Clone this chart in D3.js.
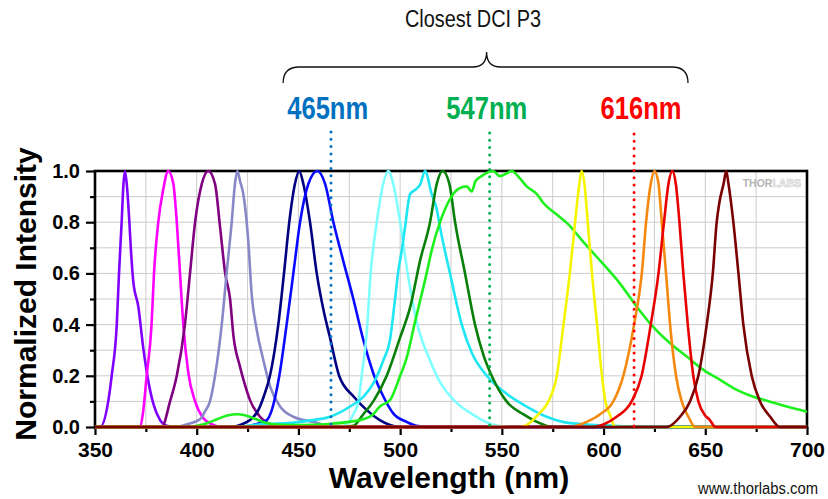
<!DOCTYPE html>
<html>
<head>
<meta charset="utf-8">
<script src="https://cdn.jsdelivr.net/npm/d3@7"></script>
<style>
  body { margin: 0; background: #fff; }
  svg { display: block; }
  .tick text { font-family: "Liberation Sans", Arial, sans-serif; font-weight: bold; fill: #000; }
  .narrow { font-family: "Liberation Sans Narrow", "Arial Narrow", "Liberation Sans", sans-serif; }
</style>
</head>
<body>
<div id="plot"></div>
<script>
var width = 828;
var height = 499;
var margin = { left: 95, top: 171, right: 21, bottom: 72 };
var plotW = width - margin.left - margin.right;
var plotH = height - margin.top - margin.bottom;

// LED spectra, [wavelength nm, normalized intensity]
var violet = [[350,0],[352.5,0],[356.5,0.1],[358.2,0.2],[360.7,0.4],[361.8,0.6],[363.1,0.8],[364,0.95],[364.7,1],[365.6,0.95],[366.9,0.8],[367.6,0.7],[368.8,0.57],[371.3,0.47],[373.7,0.31],[376.2,0.18],[378.7,0.09],[382,0.027],[385.2,0.005],[390,0],[700,0]];
var magenta = [[350,0],[372,0],[373.5,0.05],[375.4,0.2],[377.8,0.4],[379,0.6],[381.1,0.8],[383.6,0.93],[386,1],[388.5,0.95],[390.2,0.8],[391.8,0.6],[393.4,0.4],[395.9,0.21],[399.2,0.1],[403.2,0.035],[408.2,0.008],[412,0],[700,0]];
var purple = [[350,0],[382.8,0],[386.9,0.1],[390.2,0.2],[394.2,0.4],[396.7,0.6],[399.2,0.8],[402.5,0.95],[405.7,1],[409,0.95],[411.5,0.78],[414,0.6],[416.4,0.5],[418,0.36],[421.3,0.235],[423.5,0.17],[426.2,0.105],[431.1,0.04],[436,0.01],[441,0],[700,0]];
var lavender = [[350,0],[390,0],[395,0.01],[401.6,0.03],[404,0.06],[406.5,0.1],[409,0.2],[412.3,0.4],[414.7,0.6],[417.2,0.8],[418.8,0.95],[420,1],[421.3,0.96],[422.9,0.91],[425.4,0.72],[427,0.52],[429.5,0.38],[432.8,0.26],[436,0.16],[441,0.08],[447.5,0.04],[457.3,0.02],[465,0.005],[475,0],[700,0]];
var navy = [[350,0],[418,0],[421.3,0.008],[426.2,0.027],[430.3,0.066],[433,0.12],[436,0.2],[440.1,0.4],[442.9,0.6],[445.5,0.8],[448.3,0.95],[450.4,1],[452.4,0.95],[455.7,0.8],[459,0.6],[462.5,0.45],[465.5,0.35],[470,0.2],[477,0.12],[483.6,0.066],[490,0.027],[495,0.008],[500,0],[700,0]];
var blue = [[350,0],[425,0],[427.8,0.008],[434.4,0.027],[436.9,0.066],[440.6,0.2],[444.2,0.4],[447.5,0.6],[450.8,0.8],[454.9,0.95],[459.3,1],[463.1,0.95],[467.2,0.8],[472,0.65],[477,0.5],[481.9,0.34],[486.8,0.21],[491.7,0.12],[496.6,0.053],[503.2,0.02],[508,0.005],[515,0],[700,0]];
var lightCyan = [[350,0],[470,0],[473.7,0.01],[477,0.05],[479.5,0.1],[481.1,0.2],[483.6,0.37],[485.5,0.6],[488.5,0.8],[491.7,0.95],[494.2,1],[496.6,0.95],[500,0.8],[503.5,0.61],[508.5,0.4],[514.7,0.26],[520,0.17],[527,0.1],[535.4,0.05],[545.3,0.01],[555,0],[700,0]];
var cyan = [[350,0],[420,0],[430,0.01],[445,0.015],[455,0.025],[465.5,0.04],[475.4,0.08],[481.9,0.118],[486.8,0.17],[491.7,0.26],[495,0.34],[497.5,0.5],[499.1,0.61],[500.8,0.69],[502.4,0.78],[504.9,0.91],[508,0.93],[510,0.95],[512.2,1],[515.5,0.91],[518,0.85],[519.6,0.78],[524.5,0.6],[530.3,0.4],[535.2,0.29],[542.6,0.2],[552.3,0.13],[562.2,0.08],[572,0.04],[580,0.02],[592,0.01],[605,0.005],[620,0],[700,0]];
var darkGreen = [[350,0],[470,0],[477,0.005],[481.9,0.05],[486.8,0.1],[493.4,0.2],[500,0.35],[505,0.47],[509.8,0.65],[514.7,0.8],[518,0.95],[520.9,1],[524.2,0.95],[527,0.8],[531.9,0.6],[536.8,0.4],[541,0.28],[545,0.2],[552.3,0.1],[560.5,0.05],[567.2,0.02],[575,0],[700,0]];
var green = [[350,0],[395,0],[400,0.005],[405,0.015],[410,0.03],[415,0.045],[420.5,0.05],[426,0.04],[432.6,0.02],[439,0.01],[450,0.008],[465,0.012],[475,0.02],[481.8,0.03],[486.8,0.05],[490,0.08],[495,0.105],[500,0.2],[503.2,0.27],[507,0.4],[513,0.6],[515.5,0.69],[519.6,0.8],[524.5,0.89],[528.6,0.93],[532.7,0.94],[535.2,0.92],[537,0.96],[540,0.98],[545.7,1],[549,0.98],[552.3,0.99],[554.8,1],[559,0.97],[562.2,0.94],[567.2,0.91],[570.4,0.875],[577,0.83],[583.5,0.785],[589.3,0.73],[596.6,0.665],[608.1,0.56],[616.3,0.47],[624.5,0.39],[632.7,0.327],[640.9,0.275],[649.1,0.223],[657.3,0.184],[665.5,0.145],[673.6,0.118],[681.9,0.099],[690,0.08],[700,0.06]];
var yellow = [[350,0],[558,0],[561.5,0.005],[568,0.05],[572.9,0.1],[577,0.2],[580.3,0.4],[583.4,0.6],[586,0.8],[588.1,0.95],[589.2,1],[590.6,0.95],[592.2,0.8],[594.3,0.6],[596.8,0.4],[599.2,0.2],[600.9,0.1],[603,0.05],[605.8,0],[700,0]];
var orange = [[350,0],[585,0],[586.8,0.005],[591.7,0.02],[598.3,0.05],[604.8,0.1],[609.7,0.2],[615,0.4],[618.8,0.6],[620.9,0.8],[623.2,0.95],[625,1],[627,0.95],[628.6,0.8],[630.7,0.6],[632.7,0.4],[635.6,0.2],[638.4,0.1],[641.7,0.04],[645,0],[700,0]];
var red = [[350,0],[595,0],[599.9,0.01],[606.4,0.04],[613.8,0.1],[618.7,0.2],[623.2,0.4],[627,0.6],[629.7,0.8],[631.9,0.95],[633.8,1],[635.5,0.95],[637.3,0.8],[639.2,0.6],[641.4,0.4],[644.1,0.2],[646.6,0.1],[649.9,0.045],[652,0.03],[655,0],[700,0]];
var darkRed = [[350,0],[631,0],[637.6,0.04],[642.5,0.1],[646.6,0.2],[650.7,0.4],[653.7,0.6],[655.6,0.8],[657,0.88],[659,0.95],[660.3,1],[661.4,0.95],[663.8,0.8],[666.3,0.6],[668.7,0.4],[672.8,0.2],[676.9,0.1],[681.9,0.04],[686.8,0],[700,0]];

var spectra = [violet, magenta, purple, lavender, navy, blue, lightCyan, cyan, darkGreen, green, yellow, orange, red, darkRed];
var colors = ["#7f00ff", "#ff00ff", "#800080", "#8888c8", "#000080", "#0a0aff", "#80ffff", "#1ee6f2", "#087f08", "#1ef01e", "#f5f500", "#f5890f", "#e80000", "#7b0000"];

// DCI P3 markers
var markerNm = [466, 544, 615];
var markerLabelNm = [464.4, 542.6, 618.4];
var markerLabels = ["465nm", "547nm", "616nm"];
var markerColors = ["#0070c0", "#00b050", "#ff0000"];
var braceNm = [442.5, 542.5, 641.5];

var xTicks = [350, 400, 450, 500, 550, 600, 650, 700];
var xMinor = [375, 425, 475, 525, 575, 625, 675];
var yTicks = [0, 0.2, 0.4, 0.6, 0.8, 1.0];
var yMinor = [0.1, 0.3, 0.5, 0.7, 0.9];
var xGrid = [375, 400, 425, 450, 475, 500, 525, 550, 575, 600, 625, 650, 675];
var yGrid = [0.1, 0.2, 0.3, 0.4, 0.5, 0.6, 0.7, 0.8, 0.9];

var svg = d3.select("#plot").append("svg")
    .attr("width", width)
    .attr("height", height);

var scaleX = d3.scaleLinear().domain([350, 700]).range([0, plotW]);
var scaleY = d3.scaleLinear().domain([0, 1]).range([plotH, 0]);

var plot = svg.append("g").attr("transform", translate(margin.left, margin.top));

// grid
plot.selectAll("line.vgrid").data(xGrid).enter().append("line")
    .attr("x1", scaleX).attr("x2", scaleX)
    .attr("y1", 0).attr("y2", plotH)
    .style("stroke", "#cccccc").style("stroke-width", 1);
plot.selectAll("line.hgrid").data(yGrid).enter().append("line")
    .attr("y1", scaleY).attr("y2", scaleY)
    .attr("x1", 0).attr("x2", plotW)
    .style("stroke", "#cccccc").style("stroke-width", 1);

// watermark logo
var logo = plot.append("text")
    .attr("x", plotW - 6).attr("y", 16)
    .attr("text-anchor", "end")
    .style("font-family", "Liberation Sans, Arial, sans-serif")
    .style("font-weight", "bold")
    .style("font-size", "10.5px");
logo.append("tspan").text("THOR").style("fill", "#b4b4b4");
logo.append("tspan").text("LABS").style("fill", "#fff").style("stroke", "#c4c4c4").style("stroke-width", 0.6);

// axes
var xAxis = plot.append("g").attr("transform", translate(0, plotH))
    .call(d3.axisBottom(scaleX).tickValues(xTicks).tickSize(8).tickPadding(7));
plot.append("g").attr("transform", translate(0, plotH))
    .call(d3.axisBottom(scaleX).tickValues(xMinor).tickSize(5).tickFormat(""));
var yAxis = plot.append("g")
    .call(d3.axisLeft(scaleY).tickValues(yTicks).tickSize(9).tickPadding(6).tickFormat(d3.format(".1f")));
plot.append("g")
    .call(d3.axisLeft(scaleY).tickValues(yMinor).tickSize(5).tickFormat(""));

xAxis.selectAll("text").style("font-size", "21px");
yAxis.selectAll("text").style("font-size", "20px");
plot.selectAll(".domain").remove();
plot.selectAll(".tick line").style("stroke", "#000").style("stroke-width", 2.2);

// frame
plot.append("rect")
    .attr("width", plotW).attr("height", plotH)
    .style("fill", "none").style("stroke", "#000").style("stroke-width", 2.6);

// spectra
var line = d3.line()
    .x(function (d) { return scaleX(d[0]); })
    .y(function (d) { return scaleY(d[1]); })
    .curve(d3.curveMonotoneX);

plot.selectAll("path.spectrum").data(spectra).enter().append("path")
    .attr("class", "spectrum")
    .attr("d", line)
    .style("fill", "none")
    .style("stroke", function (d, i) { return colors[i]; })
    .style("stroke-width", 2.6)
    .style("stroke-linejoin", "round");

// dotted DCI P3 lines
var markerTop = [-39, -38, -37];
plot.selectAll("line.marker").data(markerNm).enter().append("line")
    .attr("x1", scaleX).attr("x2", scaleX)
    .attr("y1", function (d, i) { return markerTop[i]; })
    .attr("y2", plotH)
    .style("stroke", function (d, i) { return markerColors[i]; })
    .style("stroke-width", 3)
    .style("stroke-linecap", "round")
    .style("stroke-dasharray", "0,7.3");

svg.selectAll("text.markerLabel").data(markerLabelNm).enter().append("text")
    .attr("class", "narrow")
    .attr("x", function (d) { return margin.left + scaleX(d); })
    .attr("y", 119)
    .attr("text-anchor", "middle")
    .attr("textLength", 81)
    .attr("lengthAdjust", "spacingAndGlyphs")
    .style("font-weight", "bold")
    .style("font-size", "31px")
    .style("fill", function (d, i) { return markerColors[i]; })
    .text(function (d, i) { return markerLabels[i]; });

// brace
var bx = braceNm.map(function (d) { return margin.left + scaleX(d); });
svg.append("path")
    .attr("d", "M" + bx[0] + ",83 Q" + bx[0] + ",67 " + (bx[0] + 16) + ",67 L" + (bx[1] - 14) + ",67 Q" + bx[1] + ",67 " + bx[1] + ",52"
        + " Q" + bx[1] + ",67 " + (bx[1] + 14) + ",67 L" + (bx[2] - 16) + ",67 Q" + bx[2] + ",67 " + bx[2] + ",83")
    .style("fill", "none").style("stroke", "#111").style("stroke-width", 1.3);

svg.append("text")
    .attr("class", "narrow")
    .attr("x", 473).attr("y", 27)
    .attr("text-anchor", "middle")
    .attr("textLength", 136)
    .attr("lengthAdjust", "spacingAndGlyphs")
    .style("font-size", "23px")
    .style("fill", "#111")
    .text("Closest DCI P3");

// axis titles
svg.append("text")
    .attr("transform", "translate(36,294) rotate(-90)")
    .attr("text-anchor", "middle")
    .style("font-family", "Liberation Sans, Arial, sans-serif")
    .style("font-weight", "bold")
    .style("font-size", "30px")
    .text("Normalized Intensity");

svg.append("text")
    .attr("x", 449).attr("y", 488)
    .attr("text-anchor", "middle")
    .style("font-family", "Liberation Sans, Arial, sans-serif")
    .style("font-weight", "bold")
    .style("font-size", "30px")
    .text("Wavelength (nm)");

svg.append("text")
    .attr("class", "narrow")
    .attr("x", 818).attr("y", 494)
    .attr("text-anchor", "end")
    .attr("textLength", 120)
    .attr("lengthAdjust", "spacingAndGlyphs")
    .style("font-size", "16px")
    .style("fill", "#111")
    .text("www.thorlabs.com");

function translate(x, y) {
    return "translate(" + x + "," + y + ")";
}
</script>
</body>
</html>
